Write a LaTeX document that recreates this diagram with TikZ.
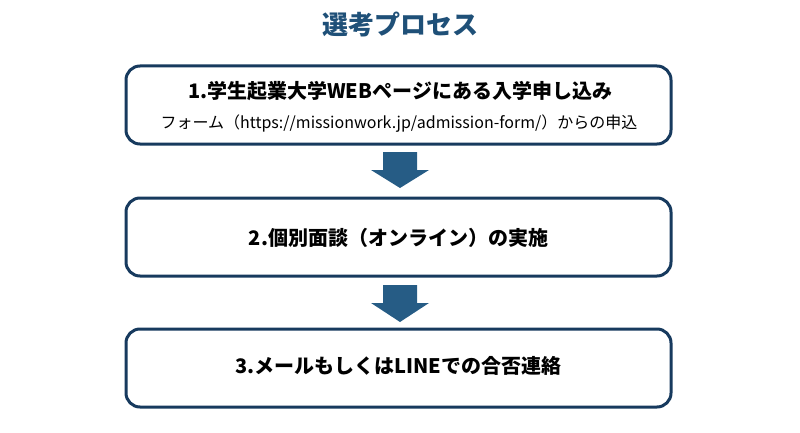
\documentclass[tikz,border=0pt]{standalone}
\usepackage{fontspec}
\setmainfont{Noto Sans CJK JP}
\definecolor{navy}{HTML}{173A5E}
\definecolor{arr}{HTML}{265C85}
\definecolor{ttl}{HTML}{1F5078}
\tikzset{stepbox/.style={draw=navy,line width=3pt,rounded corners=14pt,minimum width=545pt,minimum height=78pt,fill=white},
bigarrow/.style={fill=arr}}
\newcommand{\downarr}[2]{\fill[bigarrow] (400-17,#1) -- (400+17,#1) -- (400+17,#1+18) -- (400+29,#1+18) -- (400,#2) -- (400-29,#1+18) -- (400-17,#1+18) -- cycle;}
\begin{document}
\begin{tikzpicture}[x=1pt,y=-1pt]
\useasboundingbox (0,0) rectangle (800,433);
\node[font=\fontsize{26}{30}\selectfont\bfseries,text=ttl] (title) at (400,25) {選考プロセス};
\node[stepbox] (b1) at (398.5,105) {};
\node[font=\fontsize{20}{24}\selectfont\bfseries] (t1) at (400,91) {1.学生起業大学WEBページにある入学申し込み};
\node[font=\fontsize{16}{19}\selectfont] (t1b) at (399,124) {フォーム（https://missionwork.jp/admission-form/）からの申込};
\node[stepbox] (b2) at (398.5,237) {};
\node[font=\fontsize{20}{24}\selectfont\bfseries] (t2) at (398.5,238) {2.個別面談（オンライン）の実施};
\node[stepbox] (b3) at (398.5,368) {};
\node[font=\fontsize{20}{24}\selectfont\bfseries] (t3) at (398.5,366) {3.メールもしくはLINEでの合否連絡};
\downarr{152}{188}
\downarr{285}{322}
\end{tikzpicture}
\end{document}
